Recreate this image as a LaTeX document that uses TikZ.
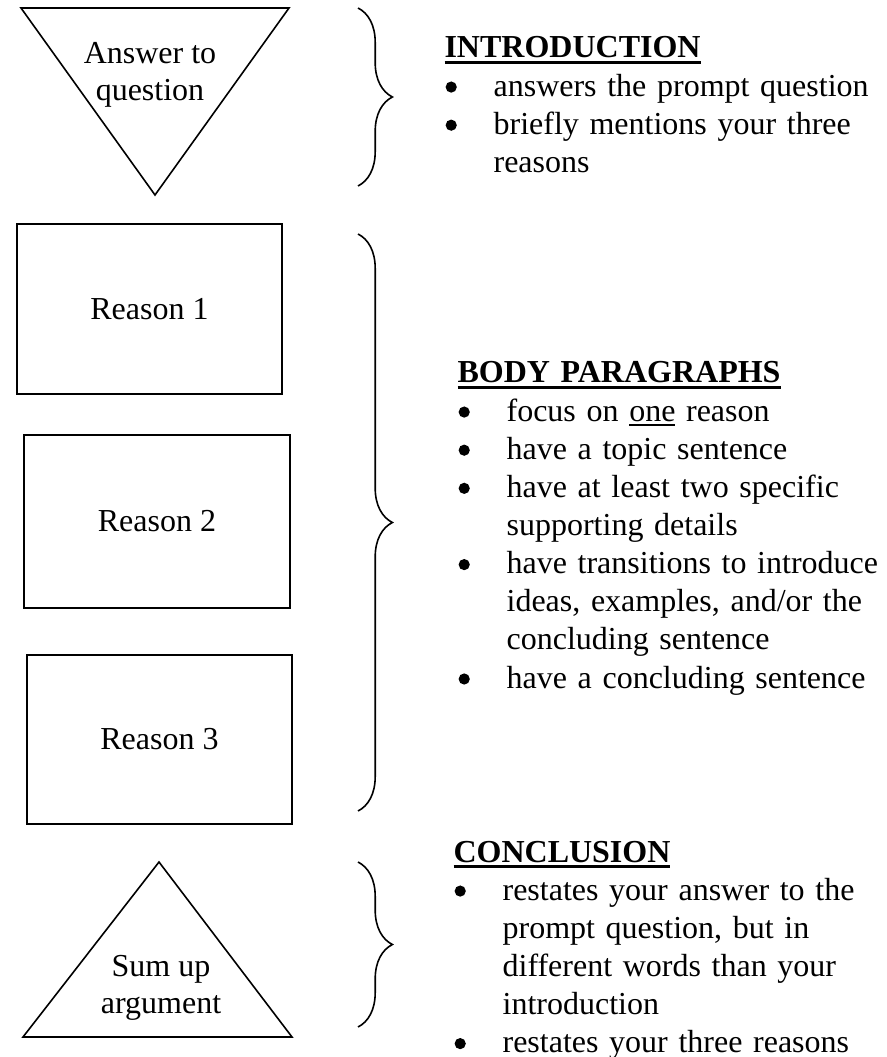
\documentclass[tikz,border=0pt]{standalone}
\usepackage{fontspec}
\setmainfont{Liberation Serif}
\usepackage{tikz}
\usetikzlibrary{decorations.pathreplacing}
\tikzstyle{reason}=[rectangle, draw, line width=0.75pt, minimum width=99.4pt, minimum height=63.4pt, inner sep=0pt, font=\fontsize{12pt}{14pt}\selectfont]
\tikzstyle{shapetext}=[align=center, inner sep=0pt, font=\fontsize{12pt}{13.8pt}\selectfont]
\tikzstyle{notes}=[anchor=base west, align=left, text width=170pt, inner sep=0pt, font=\fontsize{12pt}{14.3pt}\selectfont]
\tikzstyle{curly}=[decorate, decoration={brace, amplitude=12.9pt}, line width=0.6pt]
\newcommand{\reason}{\node[reason]}
\newcommand{\bul}{\makebox[18.4pt][l]{\hspace{0.4pt}\tikz[baseline=0pt]\fill (0,3.4pt) circle (2.1pt);}}
\newcommand{\cont}{\hspace*{18.4pt}}
\newcommand{\undl}[3]{\setbox0=\hbox{#3}\rlap{\rule[-#1]{\wd0}{#2}}\box0\relax}

\begin{document}
\begin{tikzpicture}[x=0.375pt, y=-0.375pt]
\useasboundingbox (0,0) rectangle (886,1057);

% introduction
\draw[line width=0.6pt] (21,8) -- (289,8) -- (155,195) -- cycle;
\node[shapetext] (answer) at (150,74.5) {Answer to\\question};
\coordinate (itop) at (358,8);
\coordinate (ibot) at (358,186);
\draw[curly] (itop) -- (ibot);
\node[notes] (intro) at (444,58) {\undl{2.3pt}{1.1pt}{\textbf{INTRODUCTION}}\\
  \bul answers the prompt question\\
  \bul briefly mentions your three\\
  \cont reasons};

% body paragraphs
\reason (r1) at (149.5,309) {Reason 1};
\reason[minimum height=64.9pt] (r2) at (157,521.5) {Reason 2};
\reason (r3) at (159.5,739.5) {Reason 3};
\coordinate (btop) at (358,234);
\coordinate (bbot) at (358,811);
\draw[curly] (btop) -- (bbot);
\node[notes] (body) at (457,383) {\undl{2.3pt}{1.1pt}{\textbf{BODY PARAGRAPHS}}\\
  \bul focus on \undl{1.9pt}{0.7pt}{one} reason\\
  \bul have a topic sentence\\
  \bul have at least two specific\\
  \cont supporting details\\
  \bul have transitions to introduce\\
  \cont ideas, examples, and/or the\\
  \cont concluding sentence\\
  \bul have a concluding sentence};

% conclusion
\draw[line width=0.6pt] (159,862) -- (292,1037) -- (23,1037) -- cycle;
\node[shapetext] (sumup) at (161,988) {Sum up\\argument};
\coordinate (ctop) at (358,862);
\coordinate (cbot) at (358,1027);
\draw[curly] (ctop) -- (cbot);
\node[notes] (concl) at (453,862) {\undl{2.3pt}{1.1pt}{\textbf{CONCLUSION}}\\
  \bul restates your answer to the\\
  \cont prompt question, but in\\
  \cont different words than your\\
  \cont introduction\\
  \bul restates your three reasons};
\end{tikzpicture}
\end{document}
